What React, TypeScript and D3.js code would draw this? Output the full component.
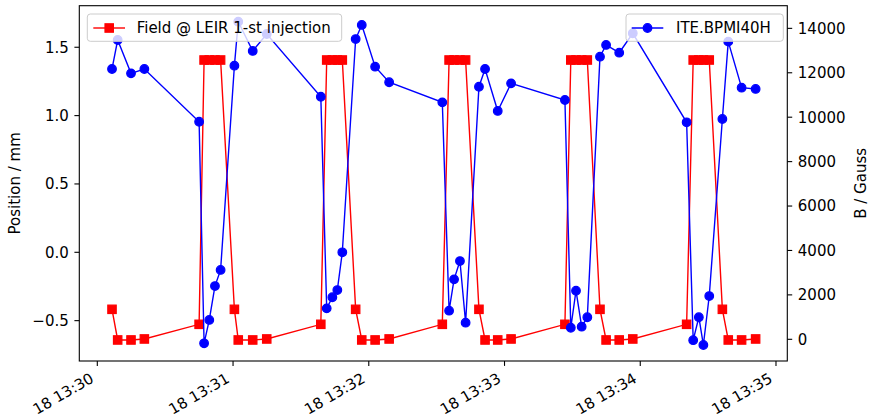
import React from "react";
import * as d3 from "d3";

// Acquisition times, seconds after 13:30:00 on the 18th
const timeSeconds = [
  6.5, 9.0, 14.9, 20.8, 45.0, 47.2, 49.5, 52.0, 54.5, 60.6, 62.3, 68.7, 74.9,
  98.8, 101.4, 103.9, 106.1, 108.3, 114.2, 116.9, 122.8, 129.0,
  152.5, 155.5, 157.7, 160.3, 162.8, 168.7, 171.4, 177.0, 182.9,
  206.7, 209.3, 211.6, 214.1, 216.6, 222.2, 224.9, 230.7, 236.7,
  260.5, 263.4, 265.9, 267.9, 270.5, 276.3, 278.9, 284.8, 291.0,
];

// ITE.BPMI40H position (mm), left axis
const bpmPosition = [
  1.341, 1.553, 1.309, 1.341, 0.955, -0.666, -0.495, -0.247, -0.129, 1.365, 1.687, 1.473, 1.597,
  1.138, -0.41, -0.329, -0.276, 0.0, 1.56, 1.663, 1.358, 1.244,
  1.097, -0.427, -0.198, -0.064, -0.515, 1.211, 1.341, 1.034, 1.236,
  1.114, -0.552, -0.281, -0.544, -0.475, 1.431, 1.517, 1.46, 1.602,
  0.951, -0.643, -0.475, -0.678, -0.32, 0.975, 1.541, 1.204, 1.195,
];

// Field @ LEIR 1-st injection (Gauss), right axis
const fieldGauss = [
  1350, -30, -30, 15, 675, 12575, 12575, 12575, 12575, 1350, -30, -30, 15,
  675, 12575, 12575, 12575, 12575, 1350, -30, -30, 15,
  675, 12575, 12575, 12575, 12575, 1350, -30, -30, 15,
  675, 12575, 12575, 12575, 12575, 1350, -30, -30, 15,
  675, 12575, 12575, 12575, 12575, 1350, -30, -30, 15,
];

const leftTicks = [-0.5, 0.0, 0.5, 1.0, 1.5];
const rightTicks = [0, 2000, 4000, 6000, 8000, 10000, 12000, 14000];
const xTickMinutes = [0, 1, 2, 3, 4, 5];

const seriesNames = ["Field @ LEIR 1-st injection", "ITE.BPMI40H"];
const leftLabel = "Position / mm";
const rightLabel = "B / Gauss";

const W = 869;
const H = 420;
const M = { left: 79.3, right: 787.3, top: 5.7, bottom: 361 };
const FONT = "'DejaVu Sans', sans-serif";
const FS = 15;

const base = new Date(2021, 5, 18, 13, 30, 0);
const toDate = (s: number) => new Date(base.getTime() + s * 1000);

export default function App() {
  const x = d3
    .scaleTime()
    .domain([toDate(-7.96), toDate(305.0)])
    .range([M.left, M.right]);
  const yL = d3.scaleLinear().domain([-0.7952, 1.804]).range([M.bottom, M.top]);
  const yR = d3.scaleLinear().domain([-977, 15020]).range([M.bottom, M.top]);

  const bluePts = timeSeconds.map((t, i) => [x(toDate(t)), yL(bpmPosition[i])] as [number, number]);
  const redPts = timeSeconds.map((t, i) => [x(toDate(t)), yR(fieldGauss[i])] as [number, number]);
  const line = d3.line();
  const fmtX = d3.timeFormat("%d %H:%M");
  const fmtL = (v: number) => d3.format(".1f")(v).replace("-", "\u2212");

  const sq = 8.4;
  const tickLen = 4.9;

  return (
    <div style={{ position: "fixed", left: 0, top: 0 }}>
      <svg width={W} height={H} style={{ display: "block", background: "#fff" }} fontFamily={FONT}>
        <rect x={0} y={0} width={W} height={H} fill="#fff" />
        {/* red series */}
        <path d={line(redPts) || ""} fill="none" stroke="#ff0000" strokeWidth={1.4} />
        {redPts.map((p, i) => (
          <rect key={"r" + i} x={p[0] - sq / 2} y={p[1] - sq / 2} width={sq} height={sq} fill="#ff0000" stroke="#ff0000" strokeWidth={1.2} />
        ))}
        {/* blue series */}
        <path d={line(bluePts) || ""} fill="none" stroke="#0000ff" strokeWidth={1.4} />
        {bluePts.map((p, i) => (
          <circle key={"b" + i} cx={p[0]} cy={p[1]} r={4.3} fill="#0000ff" stroke="#0000ff" strokeWidth={1.2} />
        ))}

        {/* frame */}
        <rect x={M.left} y={M.top} width={M.right - M.left} height={M.bottom - M.top} fill="none" stroke="#000" strokeWidth={1.1} />

        {/* x ticks */}
        {xTickMinutes.map((m) => {
          const d = toDate(m * 60);
          const tx = x(d);
          const ax = tx - 2.5;
          const ay = M.bottom + 20.5;
          return (
            <g key={"x" + m}>
              <line x1={tx} x2={tx} y1={M.bottom} y2={M.bottom + tickLen} stroke="#000" strokeWidth={1.1} />
              <text x={ax} y={ay} fontSize={FS} textAnchor="end" fill="#000" transform={`rotate(-30 ${ax} ${ay})`}>
                {fmtX(d)}
              </text>
            </g>
          );
        })}

        {/* left ticks */}
        {leftTicks.map((v) => (
          <g key={"l" + v}>
            <line x1={M.left - tickLen} x2={M.left} y1={yL(v)} y2={yL(v)} stroke="#000" strokeWidth={1.1} />
            <text x={M.left - 10.5} y={yL(v)} dy="0.36em" fontSize={FS} textAnchor="end" fill="#000">
              {fmtL(v)}
            </text>
          </g>
        ))}

        {/* right ticks */}
        {rightTicks.map((v) => (
          <g key={"rt" + v}>
            <line x1={M.right} x2={M.right + tickLen} y1={yR(v)} y2={yR(v)} stroke="#000" strokeWidth={1.1} />
            <text x={M.right + 10.5} y={yR(v)} dy="0.36em" fontSize={FS} textAnchor="start" fill="#000">
              {String(v)}
            </text>
          </g>
        ))}

        {/* axis labels */}
        <text
          x={15}
          y={(M.top + M.bottom) / 2}
          fontSize={FS}
          textAnchor="middle"
          dy="0.36em"
          transform={`rotate(-90 15 ${(M.top + M.bottom) / 2})`}
          fill="#000"
        >
          {leftLabel}
        </text>
        <text
          x={861}
          y={(M.top + M.bottom) / 2}
          fontSize={FS}
          textAnchor="middle"
          dy="0.36em"
          transform={`rotate(-90 861 ${(M.top + M.bottom) / 2})`}
          fill="#000"
        >
          {rightLabel}
        </text>

        {/* left legend */}
        <g>
          <rect x={87.3} y={14} width={254.4} height={27.3} rx={3} fill="#fff" fillOpacity={0.8} stroke="#cccccc" strokeWidth={1} />
          <line x1={93.3} x2={125} y1={28} y2={28} stroke="#ff0000" strokeWidth={1.4} />
          <rect x={109.2 - sq / 2} y={28 - sq / 2} width={sq} height={sq} fill="#ff0000" stroke="#ff0000" strokeWidth={1.2} />
          <text x={136.7} y={28} dy="0.36em" fontSize={FS} fill="#000">
            {seriesNames[0]}
          </text>
        </g>
        {/* right legend */}
        <g>
          <rect x={626} y={14} width={157.3} height={27.3} rx={3} fill="#fff" fillOpacity={0.8} stroke="#cccccc" strokeWidth={1} />
          <line x1={631.7} x2={663.3} y1={28} y2={28} stroke="#0000ff" strokeWidth={1.4} />
          <circle cx={647.5} cy={28} r={4.3} fill="#0000ff" stroke="#0000ff" strokeWidth={1.2} />
          <text x={676} y={28} dy="0.36em" fontSize={FS} fill="#000">
            {seriesNames[1]}
          </text>
        </g>
      </svg>
    </div>
  );
}
